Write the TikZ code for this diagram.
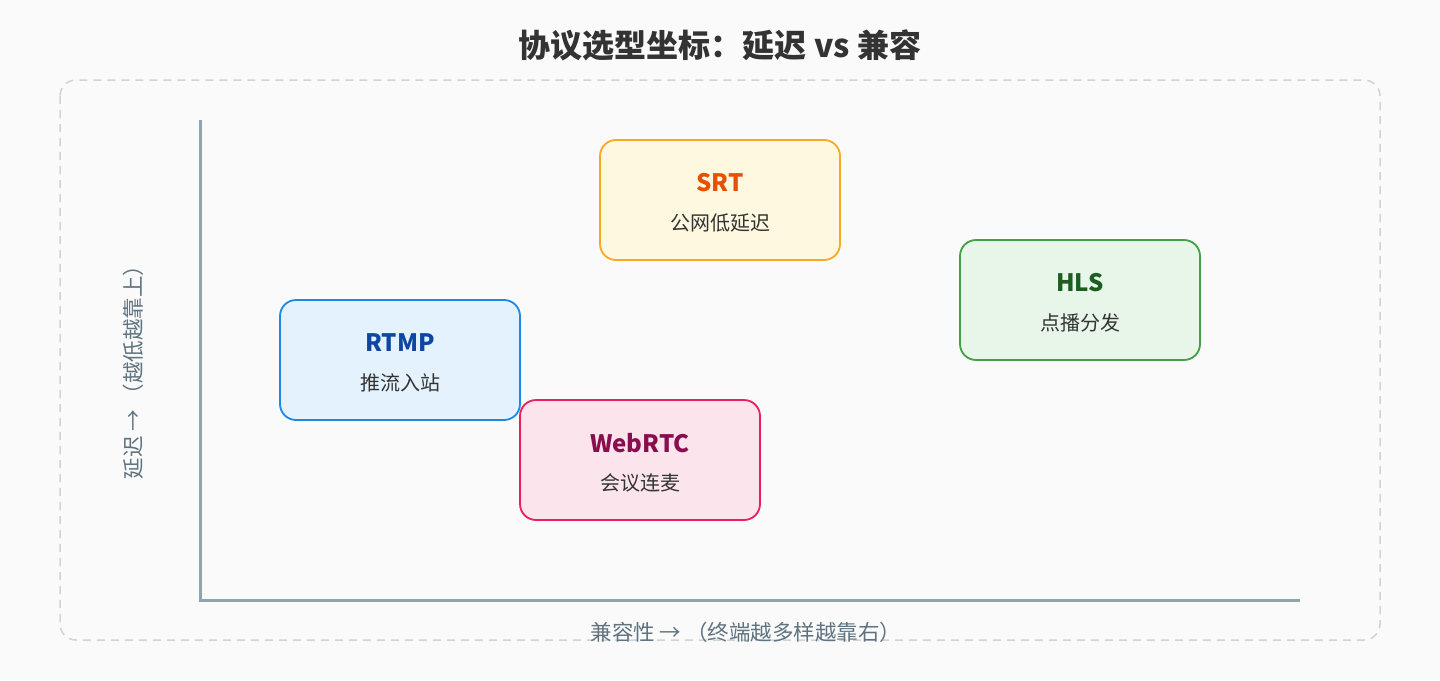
\documentclass[tikz,border=0pt]{standalone}
\usepackage{fontspec}
\setmainfont{Noto Sans CJK SC}
\definecolor{bgc}{HTML}{FAFAFA}
\definecolor{framec}{HTML}{CFD4D8}
\definecolor{axisc}{HTML}{90A4AE}
\definecolor{labelc}{HTML}{5F7380}
\definecolor{textc}{HTML}{333333}
\definecolor{srtfill}{HTML}{FFF8E1}\definecolor{srtdraw}{HTML}{F9A825}\definecolor{srttext}{HTML}{E65100}
\definecolor{hlsfill}{HTML}{E8F5E9}\definecolor{hlsdraw}{HTML}{43A047}\definecolor{hlstext}{HTML}{1B5E20}
\definecolor{rtmpfill}{HTML}{E3F2FD}\definecolor{rtmpdraw}{HTML}{1E88E5}\definecolor{rtmptext}{HTML}{0D47A1}
\definecolor{webfill}{HTML}{FCE4EC}\definecolor{webdraw}{HTML}{E91E63}\definecolor{webtext}{HTML}{880E4F}
\tikzset{
  protobox/.style={draw, line width=1.8pt, rounded corners=16pt, minimum width=240pt, minimum height=120pt, inner sep=0pt},
  prototitle/.style={font=\fontsize{24}{28}\selectfont\bfseries, anchor=center},
  protosub/.style={font=\fontsize{20}{23}\selectfont, text=textc, anchor=center},
  axisline/.style={draw=axisc, line width=3pt},
  axislabel/.style={font=\fontsize{21.5}{25}\selectfont, text=labelc}
}
\begin{document}
\begin{tikzpicture}[x=1pt,y=-1pt]
\fill[bgc] (0,0) rectangle (1440,680);
\useasboundingbox (0,0) rectangle (1440,680);
\node (title) at (720,45) {\fontsize{32}{38}\selectfont\bfseries\color{textc}协议选型坐标：延迟 vs 兼容};
\draw[framec, line width=1.5pt, dash pattern=on 8pt off 6pt, rounded corners=16pt] (60,80) rectangle (1380,640);
\coordinate (ytop) at (200,120);
\coordinate (orig) at (200,600);
\coordinate (xend) at (1300,600);
\draw[axisline] (ytop) -- (orig) -- (xend);
\node[axislabel, rotate=90] (ylab) at (133,367) {延迟 → （越低越靠上）};
\node[axislabel] (xlab) at (746,632) {兼容性 → （终端越多样越靠右）};
% boxes
\node[protobox, fill=srtfill, draw=srtdraw] (srt) at (720,200) {};
\node[prototitle, text=srttext] (srtt) at (720,183) {SRT};
\node[protosub] (srts) at (720,223) {公网低延迟};
\node[protobox, fill=hlsfill, draw=hlsdraw] (hls) at (1080,300) {};
\node[prototitle, text=hlstext] (hlst) at (1080,283) {HLS};
\node[protosub] (hlss) at (1080,323) {点播分发};
\node[protobox, fill=rtmpfill, draw=rtmpdraw] (rtmp) at (400,360) {};
\node[prototitle, text=rtmptext] (rtmpt) at (400,343) {RTMP};
\node[protosub] (rtmps) at (400,383) {推流入站};
\node[protobox, fill=webfill, draw=webdraw] (web) at (640,460) {};
\node[prototitle, text=webtext] (webt) at (640,443) {WebRTC};
\node[protosub] (webs) at (640,483) {会议连麦};
\end{tikzpicture}
\end{document}
